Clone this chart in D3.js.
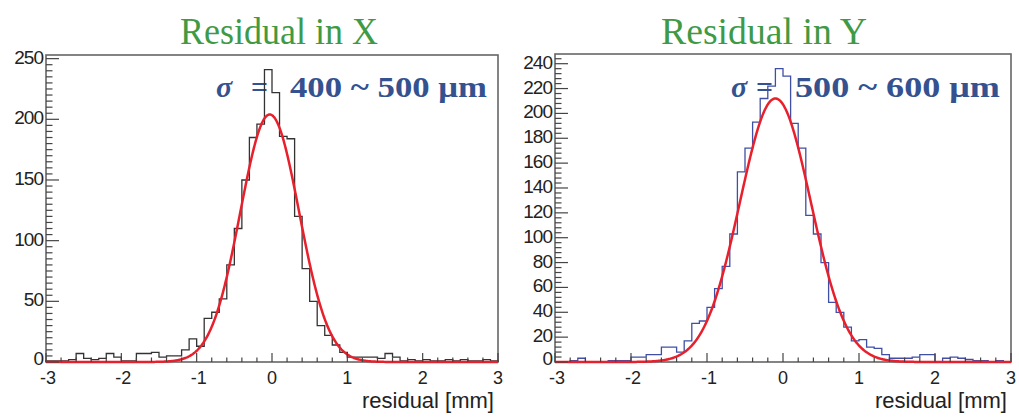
<!DOCTYPE html>
<html>
<head>
<meta charset="utf-8">
<script src="https://cdn.jsdelivr.net/npm/d3@7"></script>
<style>
  html, body { margin: 0; padding: 0; background: #fff; }
  svg { display: block; }
</style>
</head>
<body>
<svg id="chart" width="1019" height="417"></svg>
<script>
// ---------------- DATA ----------------
const binEdgesRange = [-3, 3];      // histogram range [mm]
const binCount = 60;                // bin width 0.1 mm

// Residual in X : counts per 0.1 mm bin from -3 to 3
const countsX = [
  1, 1, 1, 2, 7, 3, 2, 3, 7, 4,
  1, 1, 7, 7, 8, 4, 5, 5, 10, 19,
  13, 36, 41, 52, 80, 110, 150, 185, 196, 241,
  222, 186, 184, 120, 77, 50, 30, 22, 14, 8,
  4, 4, 4, 4, 3, 7, 4, 1, 2, 1,
  2, 1, 1, 2, 1, 2, 1, 1, 2, 1
];
// Residual in Y : counts per 0.1 mm bin from -3 to 3
const countsY = [
  0, 0, 1, 3, 0, 0, 0, 1, 1, 1,
  4, 4, 6, 6, 12, 12, 8, 17, 31, 33,
  44, 59, 77, 103, 153, 172, 193, 212, 222, 236,
  230, 192, 172, 118, 103, 80, 48, 40, 28, 17,
  18, 12, 11, 6, 3, 3, 3, 4, 6, 6,
  0, 3, 4, 3, 2, 1, 1, 0, 1, 0
];
// Gaussian fit parameters [amplitude, mean, sigma]
const fitX = [204, -0.03, 0.39];
const fitY = [212, -0.10, 0.467];

const titles = ["Residual in X", "Residual in Y"];
const sigmaTexts = ["400 ~ 500 μm", "500 ~ 600 μm"];
const xTicks = [-3, -2, -1, 0, 1, 2, 3];
const yTicksX = [0, 50, 100, 150, 200, 250];
const yTicksY = [0, 20, 40, 60, 80, 100, 120, 140, 160, 180, 200, 220, 240];
const xTitle = "residual [mm]";

// ---------------- DRAW ----------------
const svg = d3.select("#chart");

const panels = [
  { counts: countsX, fit: fitX, title: titles[0], sig: sigmaTexts[0],
    x0: 46, x1: 498, yT: 55, yB: 362, ymax: 253, yTicks: yTicksX, minorStep: 5,
    color: "#333333", titleX: 279, titleW: 198,
    sigX: 216, eqX: 251, numX: 290, numW: 197 },
  { counts: countsY, fit: fitY, title: titles[1], sig: sigmaTexts[1],
    x0: 555, x1: 1011, yT: 54, yB: 362, ymax: 247.8, yTicks: yTicksY, minorStep: 4,
    color: "#3f4fa6", titleX: 764, titleW: 206,
    sigX: 731, eqX: 756, numX: 795, numW: 205 }
];

panels.forEach(p => {
  const g = svg.append("g");
  const x = d3.scaleLinear().domain(binEdgesRange).range([p.x0, p.x1]);
  const y = d3.scaleLinear().domain([0, p.ymax]).range([p.yB, p.yT]);
  const bw = (binEdgesRange[1] - binEdgesRange[0]) / binCount;

  // title
  g.append("text")
    .attr("x", p.titleX - p.titleW / 2).attr("y", 44)
    .attr("textLength", p.titleW).attr("lengthAdjust", "spacingAndGlyphs")
    .attr("font-family", "Liberation Serif, serif")
    .attr("font-size", 38)
    .attr("fill", "#3f9a45")
    .text(p.title);

  // sigma annotation
  const st = g.append("g").attr("fill", "#34528f")
    .attr("font-family", "Liberation Serif, serif").attr("font-weight", "bold").attr("font-size", 30);
  st.append("text").attr("x", p.sigX).attr("y", 97).attr("font-style", "italic").text("σ");
  st.append("text").attr("x", p.eqX).attr("y", 97).text("=");
  st.append("text").attr("x", p.numX).attr("y", 97)
    .attr("textLength", p.numW).attr("lengthAdjust", "spacingAndGlyphs").text(p.sig);

  // frame
  g.append("rect")
    .attr("x", p.x0).attr("y", p.yT)
    .attr("width", p.x1 - p.x0).attr("height", p.yB - p.yT)
    .attr("fill", "none").attr("stroke", "#666").attr("stroke-width", 1.6);

  // histogram outline (step)
  const pts = [];
  pts.push([x(binEdgesRange[0]), y(0)]);
  p.counts.forEach((c, i) => {
    const lo = binEdgesRange[0] + i * bw, hi = lo + bw;
    pts.push([x(lo), y(c)]);
    pts.push([x(hi), y(c)]);
  });
  pts.push([x(binEdgesRange[1]), y(0)]);
  g.append("path")
    .attr("d", d3.line()(pts))
    .attr("fill", "none").attr("stroke", p.color).attr("stroke-width", 1.3);

  // gaussian fit
  const [A, mu, s] = p.fit;
  const xs = d3.range(0, 601).map(i => binEdgesRange[0] + i * 0.01);
  g.append("path")
    .attr("d", d3.line().x(v => x(v)).y(v => y(A * Math.exp(-0.5 * ((v - mu) / s) ** 2)))(xs))
    .attr("fill", "none").attr("stroke", "#e8202c").attr("stroke-width", 2.5);

  // x axis ticks (inside, pointing up)
  const tk = g.append("g").attr("stroke", "#444").attr("stroke-width", 1.2);
  d3.range(-3, 3.0001, 0.2).forEach(v => {
    const major = Math.abs(v - Math.round(v)) < 1e-6;
    tk.append("line").attr("x1", x(v)).attr("x2", x(v))
      .attr("y1", p.yB).attr("y2", p.yB - (major ? 9 : 4.5));
  });
  // y axis ticks (inside, pointing right)
  d3.range(0, p.ymax, p.minorStep).forEach(v => {
    const major = p.yTicks.includes(v);
    tk.append("line").attr("y1", y(v)).attr("y2", y(v))
      .attr("x1", p.x0).attr("x2", p.x0 + (major ? 13 : 6.5));
  });

  // tick labels
  const lab = g.append("g").attr("font-family", "Liberation Sans, Arial, sans-serif")
    .attr("fill", "#222");
  xTicks.forEach(v => {
    lab.append("text").attr("x", x(v) + (v < 0 ? 2 : 0)).attr("y", 384)
      .attr("font-size", 18)
      .attr("text-anchor", "middle").text(v < 0 ? "-" + Math.abs(v) : String(v));
  });
  p.yTicks.forEach(v => {
    lab.append("text").attr("x", p.x0 - 3).attr("y", y(v) + (v === 0 ? 3 : 5))
      .attr("font-size", 19)
      .attr("text-anchor", "end").attr("letter-spacing", -1).text(String(v));
  });
  // axis title
  lab.append("text").attr("x", p.x1 - 4).attr("y", 408)
    .attr("text-anchor", "end").attr("font-size", 22).text(xTitle);
});
</script>
</body>
</html>
